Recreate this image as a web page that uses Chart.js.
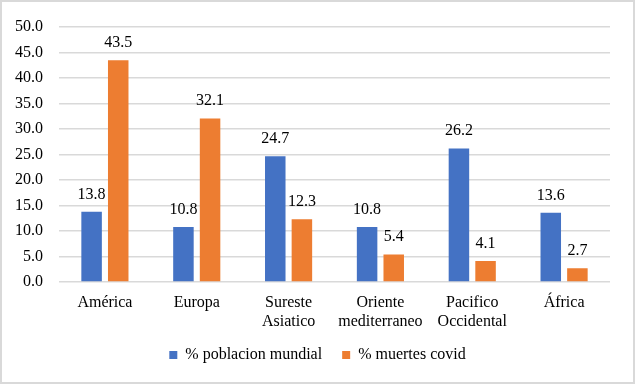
<!DOCTYPE html>
<html lang="es">
<head>
  <meta charset="UTF-8">
  <title>Población mundial y muertes covid</title>
  <script src="https://cdn.jsdelivr.net/npm/chart.js"></script>
  <style>
    body { margin: 0; background: #fff; }
    .chart-container {
      width: 635px;
      height: 384px;
      box-sizing: border-box;
      border: 2px solid #d9d9d9;
      position: relative;
    }
  </style>
</head>
<body>
  <div class="chart-container"><canvas id="chart"></canvas></div>
<script>
  // datos
  const regiones = ['América', 'Europa', ['Sureste', 'Asiatico'], ['Oriente', 'mediterraneo'], ['Pacifico', 'Occidental'], 'África'];
  const poblacion = [13.8, 10.8, 24.7, 10.8, 26.2, 13.6];
  const muertes   = [43.5, 32.1, 12.3, 5.4, 4.1, 2.7];

  const fuente = { family: '"Liberation Serif", "Times New Roman", serif', size: 16, lineHeight: 1.15 };

  // etiquetas de valor encima de cada barra
  const etiquetas = {
    id: 'etiquetas',
    afterDatasetsDraw(chart) {
      const ctx = chart.ctx;
      ctx.save();
      ctx.font = `${fuente.size}px ${fuente.family}`;
      ctx.fillStyle = '#000';
      ctx.textAlign = 'center';
      ctx.textBaseline = 'alphabetic';
      chart.data.datasets.forEach((ds, i) => {
        chart.getDatasetMeta(i).data.forEach((bar, j) => {
          ctx.fillText(ds.data[j].toFixed(1), bar.x, bar.y - 13);
        });
      });
      ctx.restore();
    },
    // centrar la leyenda en todo el ancho
    afterLayout(chart) {
      if (chart.legend) chart.legend.left += 23;
    }
  };

  new Chart(document.getElementById('chart'), {
    type: 'bar',
    data: {
      labels: regiones,
      datasets: [
        { label: '% poblacion mundial', data: poblacion, backgroundColor: '#4472C4',
          barPercentage: 0.77, categoryPercentage: 0.58 },
        { label: '% muertes covid', data: muertes, backgroundColor: '#ED7D31',
          barPercentage: 0.77, categoryPercentage: 0.58 }
      ]
    },
    options: {
      responsive: true,
      maintainAspectRatio: false,
      animation: false,
      layout: { padding: { top: 22, right: 23, left: 0, bottom: 9 } },
      plugins: {
        tooltip: { enabled: false },
        legend: {
          position: 'bottom',
          labels: {
            font: fuente, color: '#000',
            boxWidth: 8, boxHeight: 8, padding: 20
          }
        }
      },
      scales: {
        x: {
          grid: { display: false },
          border: { display: false },
          ticks: { font: fuente, color: '#000', padding: 4, maxRotation: 0 },
          afterFit: s => { s.height = 45; }
        },
        y: {
          min: 0, max: 50,
          grid: { color: '#d9d9d9', lineWidth: 1.5, drawTicks: false },
          border: { display: false },
          ticks: {
            stepSize: 5, font: fuente, color: '#000', padding: 16,
            callback: v => v.toFixed(1)
          },
          afterFit: s => { s.width = 57; }
        }
      }
    },
    plugins: [etiquetas]
  });
</script>
</body>
</html>
